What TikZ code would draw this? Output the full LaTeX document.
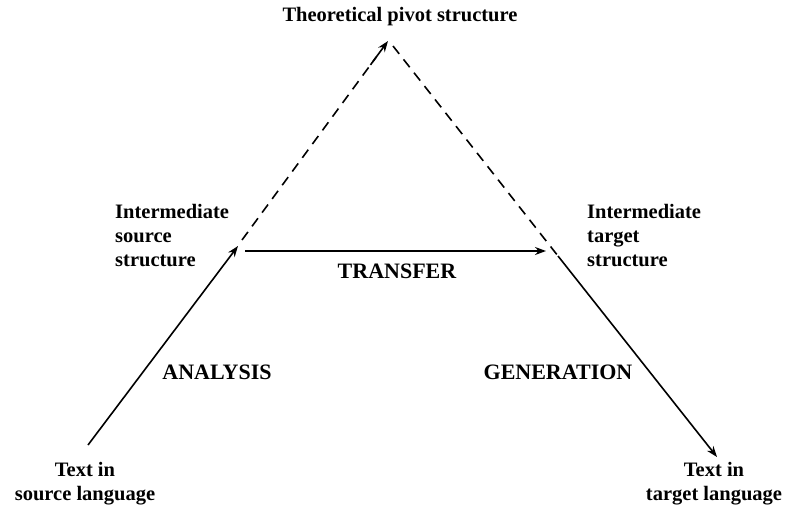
\documentclass[tikz,border=0pt]{standalone}
\usepackage{fontspec}
\setmainfont{Liberation Serif}
\usetikzlibrary{arrows.meta,calc}
\begin{document}
\begin{tikzpicture}[x=1pt,y=-1pt,
  lbl/.style={font=\fontsize{20.5}{24}\selectfont\bfseries, inner sep=0pt},
  capslbl/.style={font=\fontsize{22}{25}\selectfont\bfseries, inner sep=0pt},
  conn/.style={line width=1.6pt, -{Stealth[length=11pt,width=8pt]}},
  dconn/.style={line width=1.6pt, dash pattern=on 10pt off 7pt}]
\useasboundingbox (0,0) rectangle (786,511);
% anchor points
\coordinate (src) at (88,445);
\coordinate (isrc) at (238,246);
\coordinate (isrc2) at (242,240);
\coordinate (apex) at (388,41);
\coordinate (apexr) at (393,46);
\coordinate (tbreak) at (558,256);
\coordinate (tgt) at (717,457);
\coordinate (trs) at (245,251);
\coordinate (tre) at (546,251);
% texts
\node[lbl, anchor=center] (pivot) at (400,17) {Theoretical pivot structure};
\node[lbl, anchor=west, align=left] (ls) at (115,236) {Intermediate\\source\\structure};
\node[lbl, anchor=west, align=left] (lt) at (587,236) {Intermediate\\target\\structure};
\node[capslbl, anchor=center] (transfer) at (397,271) {TRANSFER};
\node[capslbl, anchor=center] (analysis) at (217,372) {ANALYSIS};
\node[capslbl, anchor=center] (generation) at (558,372) {GENERATION};
\node[lbl, anchor=north, align=center] (srcl) at (85,462) {Text in\\source language};
\node[lbl, anchor=north, align=center] (tgtl) at (714,462) {Text in\\target language};
% connectors
\draw[conn] (src) -- (isrc);
\draw[dconn] (isrc2) -- ($(isrc2)!0.92!(apex)$);
\draw[conn] ($(isrc2)!0.88!(apex)$) -- (apex);
\draw[dconn] (apexr) -- (tbreak);
\draw[conn] (tbreak) -- (tgt);
\draw[conn] (trs) -- (tre);
\end{tikzpicture}
\end{document}
